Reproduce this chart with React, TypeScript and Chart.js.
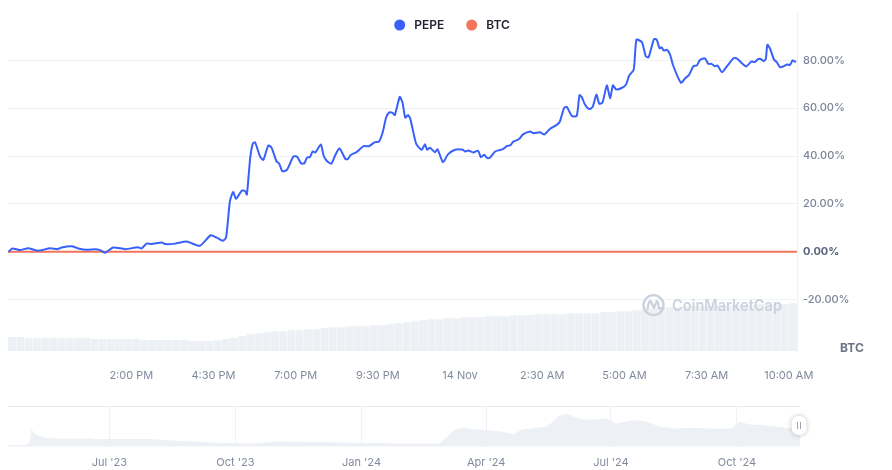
import React, { useEffect, useRef } from "react";
import { Chart, registerables } from "chart.js";

Chart.register(...registerables);

// ---------- Data ----------
const seriesNames = ["PEPE", "BTC"];

// minutes after 10:15 AM, 13 Nov
const pepeMinutes = [
  1, 8, 22, 37, 55, 77, 91, 98, 116, 128,
  144, 159, 168, 177, 192, 214, 237, 244, 253, 262,
  281, 287, 305, 326, 350, 370, 381, 392, 398, 405,
  411, 416, 427, 433, 436, 442, 447, 451, 460, 466,
  475, 481, 490, 495, 501, 509, 521, 528, 535, 541,
  546, 551, 556, 561, 571, 576, 582, 590, 597, 605,
  616, 620, 626, 636, 649, 659, 669, 677, 684, 690,
  696, 702, 706, 715, 720, 725, 730, 734, 739, 745,
  755, 761, 765, 770, 779, 784, 794, 803, 816, 830,
  834, 840, 849, 858, 863, 869, 875, 880, 889, 898,
  904, 911, 917, 922, 930, 934, 940, 953, 959, 971,
  979, 989, 1001, 1007, 1015, 1020, 1029, 1038, 1043, 1047,
  1053, 1061, 1067, 1074, 1079, 1085, 1093, 1099, 1104, 1110,
  1120, 1128, 1134, 1142, 1147, 1157, 1164, 1169, 1179, 1184,
  1189, 1193, 1197, 1202, 1208, 1214, 1228, 1236, 1243, 1251,
  1257, 1263, 1272, 1278, 1284, 1290, 1295, 1303, 1312, 1324,
  1330, 1347, 1357, 1363, 1369, 1374, 1379, 1383, 1386, 1391,
  1398, 1403, 1409, 1415, 1422, 1427, 1432, 1438,
];
const pepeChange = [
  0.0, 1.4, 0.7, 1.5, 0.4, 1.5, 1.1, 1.8, 2.3, 1.4,
  0.8, 1.1, 0.7, -0.4, 1.8, 1.1, 1.9, 1.4, 3.4, 3.2,
  3.9, 3.2, 3.4, 4.3, 2.5, 6.9, 5.9, 4.6, 5.9, 21.1,
  25.0, 22.1, 25.6, 25.3, 23.9, 39.1, 45.3, 45.7, 39.8, 38.4,
  44.4, 43.5, 37.8, 36.8, 33.6, 34.2, 39.8, 39.6, 36.9, 37.0,
  39.4, 39.6, 41.9, 41.5, 44.8, 40.2, 37.9, 36.8, 40.2, 43.2,
  38.7, 38.7, 40.5, 41.6, 44.1, 44.1, 45.7, 46.0, 50.0, 56.0,
  58.2, 58.0, 57.1, 64.7, 62.3, 56.0, 57.1, 55.7, 50.8, 45.1,
  42.6, 44.9, 42.6, 43.5, 41.6, 42.8, 37.4, 40.7, 42.6, 42.6,
  41.9, 42.3, 41.5, 42.2, 39.5, 40.5, 39.1, 39.4, 41.9, 42.5,
  43.0, 44.2, 44.5, 46.0, 46.7, 47.4, 49.0, 50.2, 49.5, 49.9,
  49.0, 51.3, 52.9, 54.3, 60.1, 60.5, 56.7, 56.8, 65.4, 64.7,
  61.5, 59.6, 60.5, 65.6, 61.9, 62.3, 69.5, 64.0, 69.5, 67.8,
  68.4, 69.9, 73.7, 76.0, 88.6, 87.5, 81.7, 81.2, 88.8, 88.6,
  85.0, 85.4, 84.0, 84.4, 82.6, 77.8, 70.6, 72.5, 73.9, 77.5,
  77.8, 80.1, 80.8, 78.5, 78.5, 77.5, 77.8, 75.0, 77.4, 80.8,
  80.8, 77.4, 79.5, 79.2, 80.5, 80.5, 79.6, 80.5, 86.5, 84.7,
  80.3, 79.2, 77.1, 77.4, 78.2, 78.0, 79.9, 79.2,
];

const btcMinutes = [0, 1440];
const btcChange = [0, 0];

// BTC volume, one bar per 15 minutes
const volumeStepMinutes = 15;
const btcVolume = [
  14, 14, 13, 13, 13, 13, 13, 13, 13, 13,
  12, 12, 12, 12, 12, 12, 11, 11, 11, 11,
  11, 11, 10, 10, 10, 11, 12, 13, 15, 17,
  18, 19, 20, 20, 21, 21, 22, 22, 23, 24,
  24, 25, 25, 25, 26, 26, 27, 28, 29, 30,
  31, 32, 32, 33, 33, 34, 34, 34, 35, 35,
  35, 36, 36, 36, 37, 37, 37, 37, 38, 38,
  38, 38, 39, 39, 40, 40, 41, 42, 43, 44,
  44, 44, 45, 45, 45, 45, 46, 46, 46, 46,
  46, 47, 47, 47, 47, 48,
];

const xTickMinutes = [225, 375, 525, 675, 825, 975, 1125, 1275, 1425];
const xTickLabels = ["2:00 PM", "4:30 PM", "7:00 PM", "9:30 PM", "14 Nov", "2:30 AM", "5:00 AM", "7:30 AM", "10:00 AM"];
const yTickValues = [-20, 0, 20, 40, 60, 80];

// Navigator: days after 18 Apr 2023
const navDays = [
  0, 13, 16, 17, 19, 21, 27.5, 36, 61, 65, 67, 103, 119, 153, 178, 194, 228, 253, 286, 315,
  324, 328, 334, 340, 349, 361, 369, 374, 382, 393, 396, 401, 407, 415, 424, 436, 444, 457,
  466, 476, 486, 499, 511, 528, 534, 541, 549, 561, 574, 578,
];
const navValues = [
  1.7, 1.7, 5, 18, 14, 11.7, 9, 8.3, 8.3, 7.3, 7.7, 7.7, 6.3, 4, 3.3, 5, 4.7, 4, 3.3, 3.3,
  15, 18.3, 19, 17.3, 16.7, 15, 12.3, 16.7, 18.3, 20, 23.3, 30, 33.3, 29, 26.7, 28.3, 23.3, 26.7,
  25, 20, 18.3, 19, 18.3, 18.3, 25, 22.3, 21.7, 20, 18.3, 17.5,
];
const navTickDays = [74, 166, 258, 349, 440, 532];
const navTickLabels = ["Jul '23", "Oct '23", "Jan '24", "Apr '24", "Jul '24", "Oct '24"];

// ---------- Styles ----------
const PEPE_COLOR = "#3861fb";
const BTC_COLOR = "#f3735b";
const VOL_COLOR = "#edf0f4";
const GRID_COLOR = "#eff2f5";
const AXIS_TEXT = "#808a9d";
const FONT = "Inter, 'Noto Sans', sans-serif";

const mainOverlay = {
  id: "mainOverlay",
  afterDatasetsDraw(chart: any) {
    const { ctx, chartArea } = chart;
    const col = "#ccd3de";
    const cx = chartArea.right - 143.5;
    const cy = chartArea.top + 292.5;
    ctx.save();
    ctx.strokeStyle = col;
    ctx.lineWidth = 2.4;
    ctx.lineJoin = "round";
    ctx.lineCap = "round";
    ctx.beginPath();
    ctx.arc(cx, cy, 10, 0, Math.PI * 2);
    ctx.stroke();
    ctx.beginPath();
    ctx.moveTo(cx - 6, cy + 4);
    ctx.quadraticCurveTo(cx - 4.5, cy - 5, cx - 2.8, cy - 4);
    ctx.lineTo(cx + 0.5, cy + 3);
    ctx.lineTo(cx + 3.2, cy - 4);
    ctx.quadraticCurveTo(cx + 5, cy - 4, cx + 5, cy + 2);
    ctx.quadraticCurveTo(cx + 5.5, cy + 4, cx + 7.5, cy + 3);
    ctx.stroke();
    ctx.font = `600 16px ${FONT}`;
    ctx.fillStyle = col;
    ctx.textBaseline = "middle";
    ctx.textAlign = "left";
    const text = "CoinMarketCap";
    const w = ctx.measureText(text).width;
    ctx.translate(cx + 18.5, cy + 1);
    ctx.scale(110 / w, 1);
    ctx.fillText(text, 0, 0);
    ctx.restore();
  },
  afterDraw(chart: any) {
    const { ctx, chartArea, width } = chart;
    ctx.save();
    // legend
    ctx.font = `600 12px ${FONT}`;
    ctx.textBaseline = "middle";
    ctx.textAlign = "left";
    const colors = [PEPE_COLOR, BTC_COLOR];
    const dotR = 5.5;
    const dotGap = 9;
    const itemGap = 22;
    const widths = seriesNames.map((n) => ctx.measureText(n).width);
    let total = 0;
    widths.forEach((w, i) => {
      total += dotR * 2 + dotGap + w + (i < widths.length - 1 ? itemGap : 0);
    });
    let x = width / 2 + 6 - total / 2;
    const y = 25;
    seriesNames.forEach((n, i) => {
      ctx.beginPath();
      ctx.fillStyle = colors[i];
      ctx.arc(x + dotR, y, dotR, 0, Math.PI * 2);
      ctx.fill();
      x += dotR * 2 + dotGap;
      ctx.fillStyle = "#222531";
      ctx.fillText(n, x, y + 0.5);
      x += widths[i] + itemGap;
    });
    // BTC volume label
    ctx.font = `700 12px ${FONT}`;
    ctx.fillStyle = "#6b7487";
    ctx.textAlign = "left";
    ctx.fillText("BTC", chartArea.right + 43, chartArea.bottom - 3);
    ctx.restore();
  },
};

const navOverlay = {
  id: "navOverlay",
  beforeDatasetsDraw(chart: any) {
    const { ctx, chartArea } = chart;
    ctx.save();
    ctx.strokeStyle = "#e7eaef";
    ctx.lineWidth = 1;
    ctx.beginPath();
    ctx.moveTo(chartArea.left, chartArea.top + 0.5);
    ctx.lineTo(chartArea.right, chartArea.top + 0.5);
    ctx.stroke();
    ctx.restore();
  },
  afterDraw(chart: any) {
    const { ctx, chartArea } = chart;
    const hx = chartArea.right - 8.5;
    const hy = chartArea.top + 10;
    const hw = 15;
    const hh = 19;
    ctx.save();
    ctx.shadowColor = "rgba(0,0,0,0.25)";
    ctx.shadowBlur = 5;
    ctx.fillStyle = "#ffffff";
    ctx.beginPath();
    (ctx as any).roundRect(hx, hy, hw, hh, 7);
    ctx.fill();
    ctx.shadowBlur = 0;
    ctx.shadowColor = "transparent";
    ctx.strokeStyle = "#9aa3b2";
    ctx.lineWidth = 1;
    ctx.beginPath();
    ctx.moveTo(hx + 6, hy + 6);
    ctx.lineTo(hx + 6, hy + 13);
    ctx.moveTo(hx + 9, hy + 6);
    ctx.lineTo(hx + 9, hy + 13);
    ctx.stroke();
    ctx.restore();
  },
};

export default function App() {
  const mainRef = useRef<HTMLCanvasElement>(null);
  const navRef = useRef<HTMLCanvasElement>(null);

  useEffect(() => {
    if (!mainRef.current || !navRef.current) return;

    const main = new Chart(mainRef.current, {
      type: "line",
      data: {
        datasets: [
          {
            label: seriesNames[0],
            data: pepeMinutes.map((m, i) => ({ x: m, y: pepeChange[i] })),
            borderColor: PEPE_COLOR,
            backgroundColor: PEPE_COLOR,
            borderWidth: 2,
            pointRadius: 0,
            tension: 0.2,
            yAxisID: "y",
            order: 1,
          },
          {
            label: seriesNames[1],
            data: btcMinutes.map((m, i) => ({ x: m, y: btcChange[i] })),
            borderColor: BTC_COLOR,
            backgroundColor: BTC_COLOR,
            borderWidth: 2,
            pointRadius: 0,
            yAxisID: "y",
            order: 2,
          },
          {
            type: "bar",
            label: "BTC Volume",
            data: btcVolume.map((v, i) => ({ x: i * volumeStepMinutes + volumeStepMinutes / 2, y: v })),
            backgroundColor: VOL_COLOR,
            borderWidth: 0,
            barPercentage: 0.95,
            categoryPercentage: 1,
            yAxisID: "vol",
            order: 3,
          } as any,
        ],
      },
      options: {
        responsive: false,
        animation: false,
        layout: { padding: { left: 8, top: 10, right: 0, bottom: 0 } },
        plugins: { legend: { display: false }, tooltip: { enabled: false } },
        scales: {
          x: {
            type: "linear",
            min: 0,
            max: 1440,
            offset: false,
            grid: { display: false },
            border: { display: false },
            afterBuildTicks: (s: any) => {
              s.ticks = xTickMinutes.map((v) => ({ value: v }));
            },
            afterFit: (s: any) => {
              s.height = 39;
            },
            ticks: {
              autoSkip: false,
              maxRotation: 0,
              padding: 10,
              color: AXIS_TEXT,
              font: { family: FONT, size: 11 },
              callback: (v: any) => {
                const i = xTickMinutes.indexOf(Number(v));
                return i >= 0 ? xTickLabels[i] : "";
              },
            },
          },
          y: {
            position: "right",
            min: -41.45,
            max: 99.9,
            afterBuildTicks: (s: any) => {
              s.ticks = yTickValues.map((v) => ({ value: v }));
            },
            afterFit: (s: any) => {
              s.width = 95;
            },
            grid: { color: GRID_COLOR, drawTicks: false },
            border: { color: GRID_COLOR },
            ticks: {
              padding: 6,
              color: (c: any) => (c.tick && c.tick.value === 0 ? "#58667e" : "#7a8599"),
              font: (c: any) => ({
                family: FONT,
                size: 11,
                weight: c.tick && c.tick.value === 0 ? "700" : "500",
              }),
              callback: (v: any) => Number(v).toFixed(2) + "%",
            },
          },
          vol: {
            display: false,
            min: 0,
            max: 341,
          },
        },
      } as any,
      plugins: [mainOverlay],
    });

    const nav = new Chart(navRef.current, {
      type: "line",
      data: {
        datasets: [
          {
            data: navDays.map((d, i) => ({ x: d, y: navValues[i] })),
            fill: "origin",
            backgroundColor: "#edf0f4",
            borderWidth: 0,
            borderColor: "transparent",
            pointRadius: 0,
            tension: 0,
          },
        ],
      },
      options: {
        responsive: false,
        animation: false,
        layout: { padding: { left: 8, right: 92, top: 11, bottom: 0 } },
        plugins: { legend: { display: false }, tooltip: { enabled: false } },
        scales: {
          x: {
            type: "linear",
            min: 0,
            max: 578,
            grid: { color: "#eef0f3", drawTicks: false },
            border: { display: false },
            afterBuildTicks: (s: any) => {
              s.ticks = navTickDays.map((v) => ({ value: v }));
            },
            afterFit: (s: any) => {
              s.height = 23.3;
            },
            ticks: {
              autoSkip: false,
              maxRotation: 0,
              padding: 9,
              color: AXIS_TEXT,
              font: { family: FONT, size: 11 },
              callback: (v: any) => {
                const i = navTickDays.indexOf(Number(v));
                return i >= 0 ? navTickLabels[i] : "";
              },
            },
          },
          y: { display: false, min: 0, max: 40.7 },
        },
      } as any,
      plugins: [navOverlay],
    });

    return () => {
      main.destroy();
      nav.destroy();
    };
  }, []);

  return (
    <div style={{ position: "absolute", left: 0, top: 0, width: 892, height: 470, background: "#fff" }}>
      <canvas
        ref={mainRef}
        width={892}
        height={390}
        style={{ position: "absolute", left: 0, top: 0, width: 892, height: 390 }}
      />
      <canvas
        ref={navRef}
        width={892}
        height={75}
        style={{ position: "absolute", left: 0, top: 395, width: 892, height: 75 }}
      />
    </div>
  );
}
